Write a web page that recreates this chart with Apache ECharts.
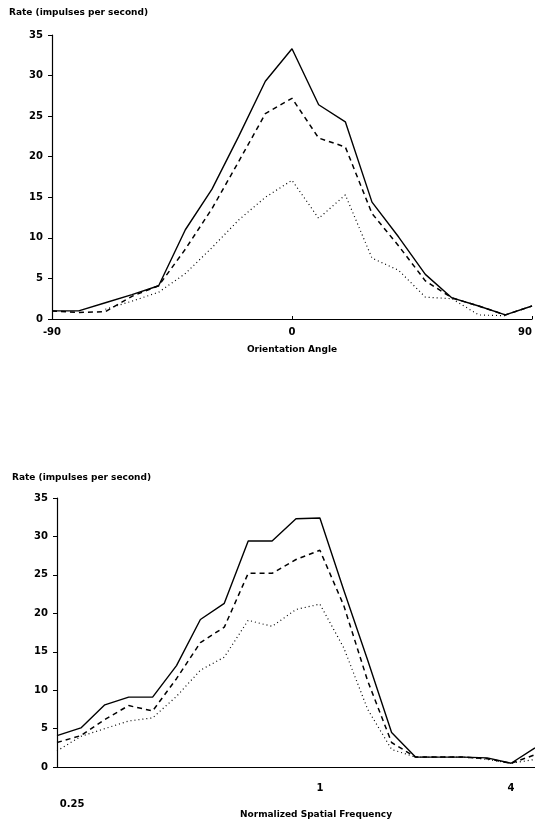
<!DOCTYPE html>
<html>
<head>
<meta charset="utf-8">
<script src="https://cdn.jsdelivr.net/npm/echarts@6/dist/echarts.min.js"></script>
<style>
  html, body { margin: 0; background: #fff; }
  #chart { width: 535px; height: 820px; }
</style>
</head>
<body>
<div id="chart"></div>
<script>
// top panel: response vs orientation angle
const angles = [-90, -80, -70, -60, -50, -40, -30, -20, -10, 0, 10, 20, 30, 40, 50, 60, 70, 80, 90];
const angleSolid = [1, 1, 2, 3, 4.1, 11, 16, 22.5, 29.3, 33.3, 26.4, 24.3, 14.4, 10.1, 5.5, 2.6, 1.6, 0.5, 1.6];
const angleDashed = [1, 0.8, 0.9, 2.8, 4.1, 8.6, 13.6, 19.4, 25.3, 27.2, 22.3, 21.2, 13, 9, 4.7, 2.6, 1.6, 0.5, 1.6];
const angleDotted = [null, null, 1.2, 2.2, 3.3, 5.6, 8.8, 12.2, 15, 17.1, 12.4, 15.3, 7.5, 6, 2.7, 2.5, 0.5, 0.4, null];
const angleTicks = ["-90", "0", "90"];

// bottom panel: response vs normalized spatial frequency (log steps)
const freqSteps = [0, 1, 2, 3, 4, 5, 6, 7, 8, 9, 10, 11, 12, 13, 14, 15, 16, 17, 18, 19, 20];
const freqSolid = [4.1, 5.1, 8.1, 9.1, 9.1, 13.2, 19.2, 21.3, 29.4, 29.4, 32.3, 32.4, 23, 13.9, 4.5, 1.3, 1.3, 1.3, 1.2, 0.5, 2.5];
const freqDashed = [3.2, 4.1, 6.2, 8, 7.3, 11.5, 16.2, 18.2, 25.2, 25.2, 27, 28.2, 21, 11.2, 3.2, 1.3, 1.3, 1.3, 1.1, 0.5, 1.6];
const freqDotted = [2.1, 4, 5, 6, 6.4, 9.2, 12.6, 14.3, 19.1, 18.3, 20.5, 21.2, 15.5, 7.5, 2.3, 1.3, 1.3, 1.3, 1, 0.5, 1];
const freqTickPos = [0.63, 11, 19];
const freqTickLabels = ["0.25", "1", "4"];

const rateTicks = [0, 5, 10, 15, 20, 25, 30, 35];

const font = "DejaVu Sans";
const txt = { fontFamily: font, fontSize: 10, fontWeight: "bold", color: "#000" };
const small = { fontFamily: font, fontSize: 9, fontWeight: "bold", color: "#000" };

function yAxisFor(gridIndex) {
  return {
    type: "value",
    gridIndex: gridIndex,
    min: rateTicks[0],
    max: rateTicks[rateTicks.length - 1],
    interval: 5,
    splitLine: { show: false },
    axisLine: { show: true, onZero: false, lineStyle: { color: "#000", width: 1.2 } },
    axisTick: { show: true, length: 4, lineStyle: { color: "#000" } },
    axisLabel: Object.assign({ margin: 9 }, txt),
  };
}

function line(name, xs, ys, type, idx) {
  const styles = {
    solid: { type: "solid", width: 1.4 },
    dashed: { type: [5, 4], width: 1.5 },
    dotted: { type: [1, 3], width: 1.2 },
  };
  return {
    name: name,
    type: "line",
    xAxisIndex: idx,
    yAxisIndex: idx,
    data: xs.map((x, i) => [x, ys[i]]),
    showSymbol: false,
    symbol: "none",
    connectNulls: false,
    lineStyle: Object.assign({ color: "#000" }, styles[type]),
  };
}

const chart = echarts.init(document.getElementById("chart"));

const option = {
  animation: false,
  backgroundColor: "#fff",
  title: [
    { text: "Rate (impulses per second)", left: 4, top: 3, textStyle: small },
    { text: "Rate (impulses per second)", left: 7, top: 468, textStyle: small },
  ],
  grid: [
    { left: 52, right: 1, top: 35, height: 284 },
    { left: 57, right: 0, top: 498, height: 282 },
  ],
  xAxis: [
    {
      type: "value",
      gridIndex: 0,
      min: -90,
      max: 90,
      interval: 90,
      splitLine: { show: false },
      axisLine: { onZero: false, lineStyle: { color: "#000", width: 1.2 } },
      axisTick: { show: true, length: 3, inside: true, lineStyle: { color: "#000" } },
      axisLabel: Object.assign({ margin: 8, alignMaxLabel: "right",
        formatter: (v) => angleTicks[angleTicks.indexOf(String(v))] || "" }, txt),
      name: "Orientation Angle",
      nameLocation: "middle",
      nameGap: 26,
      nameTextStyle: small,
    },
    {
      type: "value",
      gridIndex: 1,
      min: freqSteps[0],
      max: freqSteps[freqSteps.length - 1],
      splitLine: { show: false },
      axisLine: { onZero: false, lineStyle: { color: "#000", width: 1.2 } },
      axisTick: { show: false },
      axisLabel: Object.assign({
        margin: 4,
        customValues: freqTickPos,
        formatter: (v) => {
          const i = freqTickPos.findIndex((p) => Math.abs(p - v) < 0.01);
          if (i < 0) return "";
          return i === 0 ? "{low|" + freqTickLabels[i] + "}" : "{mid|" + freqTickLabels[i] + "}";
        },
        rich: {
          low: Object.assign({ padding: [28, 0, 0, 0] }, txt),
          mid: Object.assign({ padding: [12, 0, 0, 0] }, txt),
        },
      }, txt),
      name: "Normalized Spatial Frequency",
      nameLocation: "middle",
      nameGap: 24,
      nameTextStyle: Object.assign({ padding: [0, 0, 0, 40] }, small),
    },
  ],
  yAxis: [yAxisFor(0), yAxisFor(1)],
  series: [
    line("solid", angles, angleSolid, "solid", 0),
    line("dashed", angles, angleDashed, "dashed", 0),
    line("dotted", angles, angleDotted, "dotted", 0),
    line("solid", freqSteps, freqSolid, "solid", 1),
    line("dashed", freqSteps, freqDashed, "dashed", 1),
    line("dotted", freqSteps, freqDotted, "dotted", 1),
  ],
};

option && chart.setOption(option);
</script>
</body>
</html>
